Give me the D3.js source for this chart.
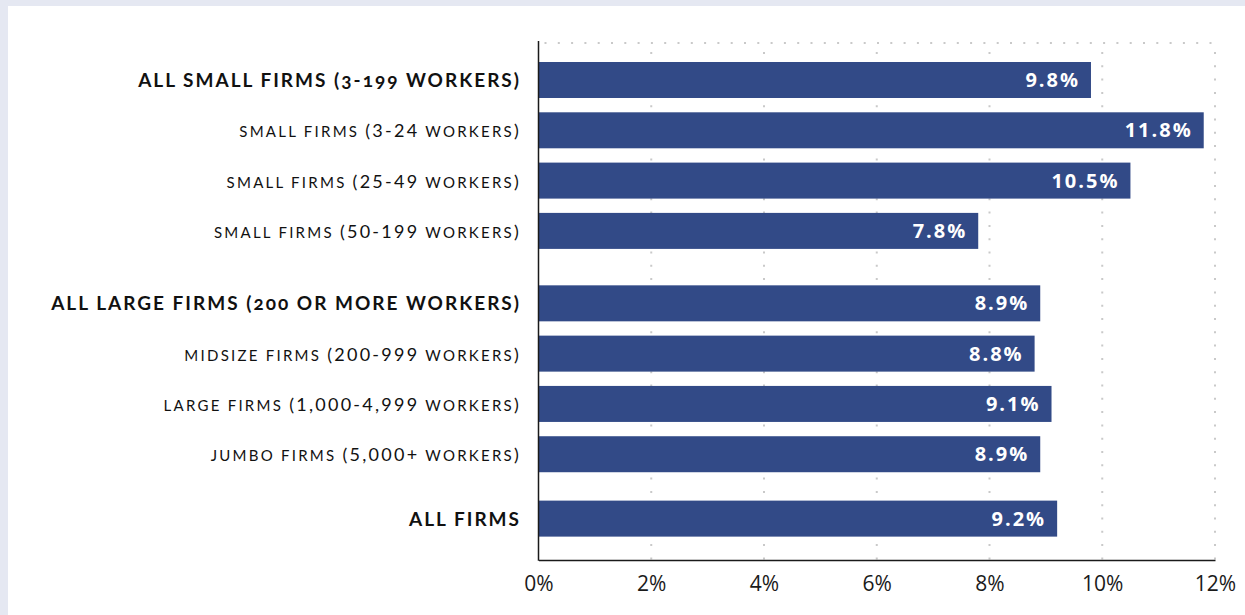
<!DOCTYPE html>
<html>
<head>
<meta charset="utf-8">
<script src="https://cdn.jsdelivr.net/npm/d3@7"></script>
<style>
  html, body { margin: 0; padding: 0; background: #e5e8f2; }
  svg { display: block; }
  .cat { font-family: Lato, "Open Sans", sans-serif; fill: #111; }
  .cat.total { font-weight: 700; font-size: 19px; letter-spacing: 2px; font-variant-numeric: oldstyle-nums; }
  .cat.sub { font-weight: 400; letter-spacing: 2.25px; }
  .cat.sub .sc { font-size: 15px; }
  .cat.sub .fig { font-size: 18px; }
  .val { font-family: "Open Sans", Lato, sans-serif; font-weight: 700; font-size: 20px; fill: #fff; letter-spacing: 2px; }
  .tick-label { font-family: "Open Sans", Lato, sans-serif; font-size: 21px; fill: #1a1a1a; }
</style>
</head>
<body>
<svg id="chart" width="1245" height="615"></svg>
<script>
// Firm-size categories, in display order
const categories = [
  "ALL SMALL FIRMS (3-199 WORKERS)",
  "small firms (3-24 workers)",
  "small firms (25-49 workers)",
  "small firms (50-199 workers)",
  "ALL LARGE FIRMS (200 OR MORE WORKERS)",
  "midsize firms (200-999 workers)",
  "large firms (1,000-4,999 workers)",
  "jumbo firms (5,000+ workers)",
  "ALL FIRMS"
];
// Share, in percent
const values = [9.8, 11.8, 10.5, 7.8, 8.9, 8.8, 9.1, 8.9, 9.2];
// Which block each row belongs to, and whether it is a summary row
const groups = [0, 0, 0, 0, 1, 1, 1, 1, 2];
const isTotal = [true, false, false, false, true, false, false, false, true];
// Axis ticks
const xTicks = [0, 2, 4, 6, 8, 10, 12];

const svg = d3.select("#chart");
const W = 1245, H = 615;

// white panel on the tinted page
svg.append("rect").attr("x", 8).attr("y", 6).attr("width", W - 8).attr("height", H - 6).attr("fill", "#fff");

const plotLeft = 538.5, plotRight = 1215, plotTop = 43, plotBottom = 560;
const x = d3.scaleLinear().domain([0, 12]).range([plotLeft, plotRight]);

// rows sit on a slot scale; extra space separates the three blocks
const groupStart = [0, 0.44, 0.72];
const slots = categories.map((c, i) => i + groupStart[groups[i]]);
const y = d3.scaleLinear().domain([0, 1]).range([62, 112.3]);
const barH = 36;

// dotted grid
const grid = svg.append("g").attr("stroke", "#c9c9c9").attr("stroke-width", 2).attr("stroke-dasharray", "2,11.3");
grid.append("line").attr("x1", plotLeft + 6).attr("x2", plotRight).attr("y1", plotTop).attr("y2", plotTop);
grid.selectAll("line.v").data(xTicks.filter(t => t > 0)).join("line").attr("class", "v")
  .attr("x1", d => x(d)).attr("x2", d => x(d))
  .attr("y1", plotTop + 9).attr("y2", plotBottom);

// bars
const rows = categories.map((c, i) => ({ c, v: values[i], slot: slots[i], total: isTotal[i] }));
svg.append("g").selectAll("rect").data(rows).join("rect")
  .attr("x", plotLeft)
  .attr("y", d => y(d.slot))
  .attr("width", d => x(d.v) - plotLeft)
  .attr("height", barH)
  .attr("fill", "#324a87");

// value labels inside the bar ends
svg.append("g").selectAll("text").data(rows).join("text")
  .attr("class", "val")
  .attr("x", d => x(d.v) - 11)
  .attr("y", d => y(d.slot) + barH / 2 + 7)
  .attr("text-anchor", "end")
  .text(d => d.v.toFixed(1) + "%");

// category labels; sub-rows are set in small caps with full-size figures
const cats = svg.append("g").selectAll("text").data(rows).join("text")
  .attr("class", d => "cat " + (d.total ? "total" : "sub"))
  .attr("x", 521)
  .attr("y", d => y(d.slot) + barH / 2 + 7)
  .attr("text-anchor", "end");
cats.filter(d => d.total).text(d => d.c);
cats.filter(d => !d.total).each(function (d) {
  const runs = d.c.match(/[a-z ]+|[^a-z ]+/g);
  d3.select(this).selectAll("tspan").data(runs).join("tspan")
    .attr("class", r => /[a-z]/.test(r) ? "sc" : "fig")
    .text(r => r.toUpperCase());
});

// axes
const xAxis = d3.axisBottom(x).tickValues(xTicks).tickSize(0).tickPadding(16).tickFormat(d => d + "%");
const ax = svg.append("g").attr("transform", `translate(0,${plotBottom})`).call(xAxis);
ax.select(".domain").attr("stroke", "#1a1a1a").attr("stroke-width", 1.5);
ax.selectAll(".tick text").attr("class", "tick-label").attr("fill", null);
ax.attr("font-family", null).attr("font-size", null);

svg.append("line").attr("x1", plotLeft).attr("x2", plotLeft).attr("y1", plotTop - 2).attr("y2", plotBottom + 0.75)
  .attr("stroke", "#1a1a1a").attr("stroke-width", 1.5);
</script>
</body>
</html>
